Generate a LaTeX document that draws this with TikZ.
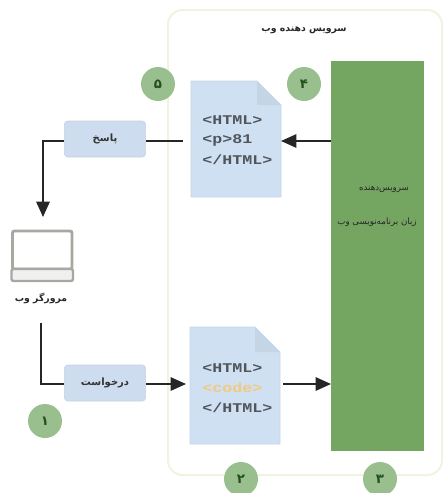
\documentclass[tikz,border=0pt]{standalone}
\usepackage{fontspec}
\usetikzlibrary{arrows.meta}
\TeXXeTstate=1
\newfontfamily\arabicfont[Script=Arabic]{DejaVu Sans}
\newfontfamily\codefont[FakeStretch=1.25]{Liberation Mono}
\definecolor{numgreen}{HTML}{9ABF8F}
\definecolor{numtext}{HTML}{24501E}
\definecolor{srvgreen}{HTML}{75A661}
\definecolor{docblue}{HTML}{CFE0F2}
\definecolor{foldblue}{HTML}{C4D5E6}
\definecolor{lblblue}{HTML}{CDDCEE}
\definecolor{frame}{HTML}{F3F1E2}
\definecolor{lapgray}{HTML}{A8A8A2}
\definecolor{codegray}{HTML}{50555C}
\definecolor{codeorange}{HTML}{F2C97E}
\tikzset{
  conn/.style={draw=black!85,line width=1.4pt},
  arr/.style={conn,-{Triangle[length=11.5pt,width=10pt]}},
  numc/.style={circle,fill=numgreen,minimum size=25.5pt,inner sep=0pt,font=\arabicfont\fontsize{10}{12}\selectfont\bfseries,text=numtext},
  lbl/.style={rectangle,rounded corners=2.5pt,draw=lblblue!90!gray,fill=lblblue,minimum width=61pt,minimum height=27pt,inner sep=0pt,font=\arabicfont\fontsize{7.5}{9}\selectfont\bfseries,text=black!80},
  fa/.style={inner sep=0pt,font=\arabicfont\fontsize{6.5}{8}\selectfont,text=black!85},
  fab/.style={inner sep=0pt,font=\arabicfont\fontsize{7}{9}\selectfont\bfseries,text=black!85},
  code/.style={inner sep=0pt,anchor=west,font=\codefont\fontsize{10}{12}\selectfont\bfseries,text=codegray},
}
\begin{document}
\begin{tikzpicture}[x=0.75pt,y=-0.75pt]
\useasboundingbox (0,0) rectangle (443,493);
\draw[frame,line width=1.5pt,rounded corners=11pt] (168,10) rectangle (442,475);
\node[fab] (title) at (304,30) {\beginR سرویس دهنده وب\endR};
\node[draw=srvgreen,fill=srvgreen,minimum width=69pt,minimum height=291.5pt,inner sep=0pt,anchor=north west] (srv) at (331,61) {};
\node[fa] (s1) at (384,189) {\beginR سرویس‌دهنده\endR};
\node[fa] (s2) at (377,222) {\beginR زبان برنامه‌نویسی وب\endR};
% top document
\fill[docblue,draw=foldblue] (191,81) -- (257,81) -- (281,105) -- (281,197) -- (191,197) -- cycle;
\fill[foldblue] (257,81) -- (281,105) -- (257,105) -- cycle;
\node[code] (c1) at (202,120) {<HTML>};
\node[code] (c2) at (202,140) {<p>81};
\node[code] (c3) at (202,160) {</HTML>};
% bottom document
\fill[docblue,draw=foldblue] (190,327) -- (255,327) -- (280,352) -- (280,444) -- (190,444) -- cycle;
\fill[foldblue] (255,327) -- (280,352) -- (255,352) -- cycle;
\node[code] (c4) at (202,368) {<HTML>};
\node[code,text=codeorange] (c5) at (202,388) {<code>};
\node[code] (c6) at (202,408) {</HTML>};
\coordinate (doc1r) at (281,141);
\coordinate (doc1l) at (183,141);
\coordinate (doc2l) at (186,384);
\coordinate (doc2r) at (283,384);
% laptop
\draw[lapgray,line width=2.2pt,rounded corners=1.5pt] (12.5,231) rectangle (72,269);
\draw[lapgray,fill=gray!12,line width=1.8pt,rounded corners=1.5pt] (11.5,269) rectangle (73,281);
\node[fab] (browser) at (41,298) {\beginR مرورگر وب\endR};
\coordinate (lapbot) at (41,323);
\coordinate (laptop) at (43,217);
% labels
\node[lbl] (resp) at (105,139) {\beginR پاسخ\endR};
\node[lbl] (req) at (105,383) {\beginR درخواست\endR};
% connectors
\draw[arr] (srv.west |- doc1r) -- (doc1r);
\draw[conn] (resp.east |- doc1l) -- (doc1l);
\draw[arr] (resp.west |- doc1l) -- (laptop |- doc1l) -- (laptop);
\draw[conn] (lapbot) -- (lapbot |- doc2l) -- (req.west |- doc2l);
\draw[arr] (req.east |- doc2l) -- (doc2l);
\draw[arr] (doc2r) -- (srv.west |- doc2r);
% numbers
\node[numc] (n5) at (158,84) {\beginR ۵\endR};
\node[numc] (n4) at (304,84) {\beginR ۴\endR};
\node[numc] (n1) at (45,421) {\beginR ۱\endR};
\node[numc] (n2) at (241,479) {\beginR ۲\endR};
\node[numc] (n3) at (380,479) {\beginR ۳\endR};
\end{tikzpicture}
\end{document}
